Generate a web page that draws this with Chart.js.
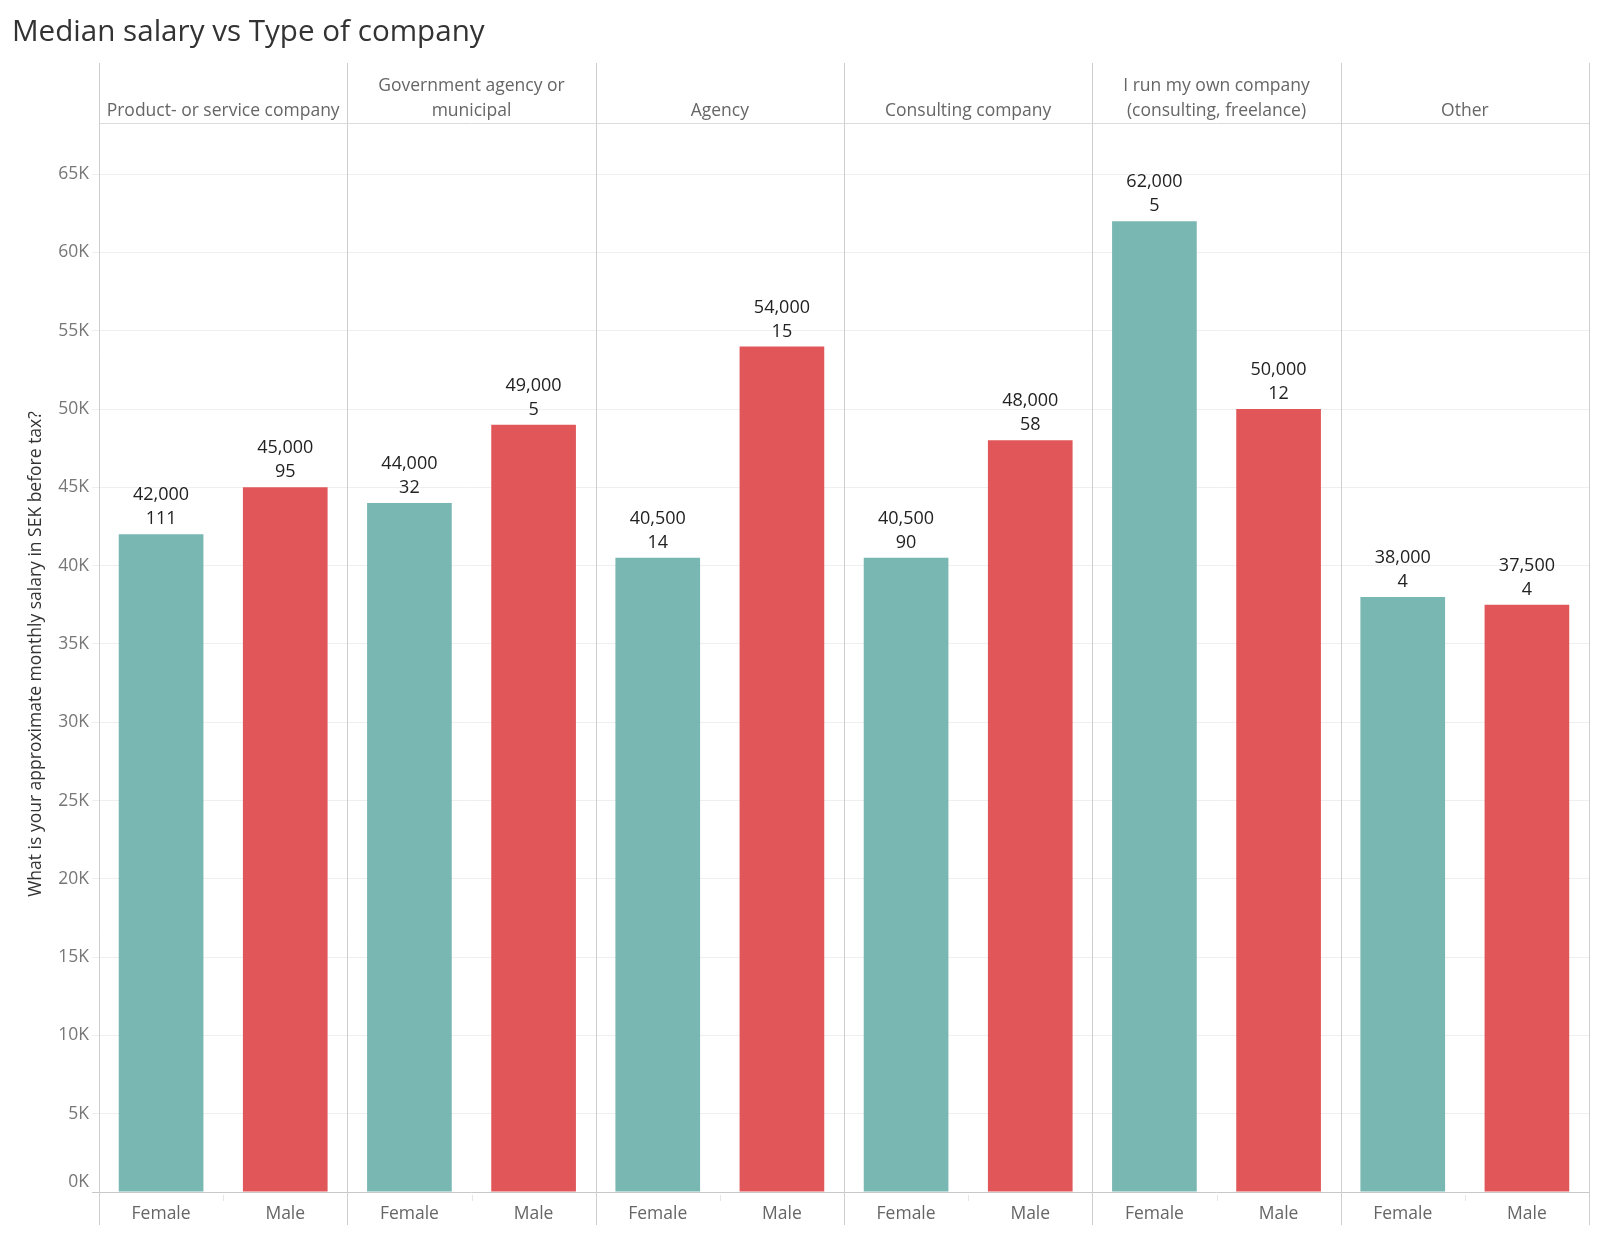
<!DOCTYPE html>
<html>
<head>
<meta charset="utf-8">
<script src="https://cdn.jsdelivr.net/npm/chart.js@4.4.1/dist/chart.umd.min.js"></script>
<style>
  html, body { margin: 0; padding: 0; background: #fff; overflow: hidden; }
  #wrap { width: 1600px; height: 1233px; }
</style>
</head>
<body>
<div id="wrap"><canvas id="c" width="1600" height="1233" style="width:1600px;height:1233px"></canvas></div>
<script>
// ---- data ----
const chartTitle = "Median salary vs Type of company";
const yAxisTitle = "What is your approximate monthly salary in SEK before tax?";
const categories = [
  ["Product- or service company"],
  ["Government agency or", "municipal"],
  ["Agency"],
  ["Consulting company"],
  ["I run my own company", "(consulting, freelance)"],
  ["Other"]
];
const genders = ["Female", "Male"];
const femaleSalary = [42000, 44000, 40500, 40500, 62000, 38000];
const maleSalary   = [45000, 49000, 54000, 48000, 50000, 37500];
const femaleCount  = [111, 32, 14, 90, 5, 4];
const maleCount    = [95, 5, 15, 58, 12, 4];
const yTickValues  = [0, 5000, 10000, 15000, 20000, 25000, 30000, 35000, 40000, 45000, 50000, 55000, 60000, 65000];
const yMin = 0, yMax = 68300;

// ---- build flat arrays ----
const FONT = "'Open Sans', 'Noto Sans', sans-serif";
const colors = { Female: "#79b7b2", Male: "#e15759" };
const labels = [], values = [], counts = [], bg = [];
categories.forEach((c, i) => {
  labels.push(genders[0]); values.push(femaleSalary[i]); counts.push(femaleCount[i]); bg.push(colors.Female);
  labels.push(genders[1]); values.push(maleSalary[i]);   counts.push(maleCount[i]);   bg.push(colors.Male);
});

const fmt = v => v.toLocaleString("en-US");
const kfmt = v => (v / 1000) + "K";

const decor = {
  id: "decor",
  afterDraw(chart) {
    const ctx = chart.ctx, a = chart.chartArea;
    ctx.save();
    // title
    ctx.fillStyle = "#333";
    ctx.font = "29.6px " + FONT;
    ctx.textAlign = "left"; ctx.textBaseline = "alphabetic";
    ctx.fillText(chartTitle, 12, 41);

    const n = categories.length;
    const pw = (a.right - a.left) / n;
    // header bottom line
    ctx.strokeStyle = "#dcdcdc"; ctx.lineWidth = 1;
    ctx.beginPath(); ctx.moveTo(a.left, Math.round(a.top) + 0.5); ctx.lineTo(a.right, Math.round(a.top) + 0.5); ctx.stroke();
    // vertical separators
    ctx.strokeStyle = "#cfcfcf";
    for (let i = 0; i <= n; i++) {
      const x = Math.round(a.left + i * pw) + 0.5;
      ctx.beginPath(); ctx.moveTo(x, 63); ctx.lineTo(x, 1225); ctx.stroke();
    }
    // small ticks between genders on x axis
    ctx.strokeStyle = "#e6e6e6";
    for (let i = 0; i < n; i++) {
      const x = Math.round(a.left + i * pw + pw / 2) + 0.5;
      ctx.beginPath(); ctx.moveTo(x, a.bottom + 3); ctx.lineTo(x, a.bottom + 9); ctx.stroke();
    }
    // headers
    ctx.fillStyle = "#666";
    ctx.font = "17.5px " + FONT;
    ctx.textAlign = "center"; ctx.textBaseline = "middle";
    categories.forEach((lines, i) => {
      const cx = a.left + i * pw + pw / 2;
      const lastY = 111;
      lines.forEach((t, j) => {
        ctx.fillText(t, cx, lastY - (lines.length - 1 - j) * 24.5);
      });
    });
    // bottom-most y tick label, lifted above the baseline
    const ys = chart.scales.y;
    ctx.fillStyle = "#777";
    ctx.textAlign = "right";
    ctx.fillText(kfmt(yTickValues[0]), ys.right - 10, ys.getPixelForValue(yTickValues[0]) - 10);
    // y axis title
    ctx.save();
    ctx.translate(36, 654);
    ctx.rotate(-Math.PI / 2);
    ctx.fillStyle = "#333";
    ctx.font = "17.5px " + FONT;
    ctx.textAlign = "center"; ctx.textBaseline = "middle";
    ctx.fillText(yAxisTitle, 0, 0);
    ctx.restore();
    // bar labels
    const meta = chart.getDatasetMeta(0);
    ctx.fillStyle = "#222";
    ctx.font = "18px " + FONT;
    ctx.textAlign = "center"; ctx.textBaseline = "middle";
    meta.data.forEach((bar, i) => {
      ctx.fillText(fmt(values[i]), bar.x, bar.y - 39);
      ctx.fillText(String(counts[i]), bar.x, bar.y - 15);
    });
    ctx.restore();
  }
};

new Chart(document.getElementById("c"), {
  type: "bar",
  data: {
    labels: labels,
    datasets: [{
      data: values,
      backgroundColor: bg,
      borderWidth: 0,
      categoryPercentage: 0.682,
      barPercentage: 1.0
    }]
  },
  options: {
    responsive: false,
    animation: false,
    devicePixelRatio: 1,
    layout: { padding: { top: 122.5, right: 11, left: 0, bottom: 0 } },
    plugins: { legend: { display: false }, tooltip: { enabled: false }, title: { display: false } },
    scales: {
      x: {
        grid: { display: false },
        border: { display: false },
        ticks: { color: "#666", font: { family: FONT, size: 17.5 }, padding: 4, maxRotation: 0, autoSkip: false },
        afterFit(s) { s.height = 41; }
      },
      y: {
        min: yMin, max: yMax,
        border: { display: false },
        grid: {
          color: ctx => ctx.tick && ctx.tick.value === 0 ? "#c8c8c8" : "#efefef",
          tickColor: ctx => ctx.tick && ctx.tick.value === 0 ? "#c8c8c8" : "#efefef",
          tickLength: 7,
          lineWidth: 1
        },
        ticks: {
          color: "#777",
          font: { family: FONT, size: 17.5 },
          padding: 3,
          callback: v => (v === yTickValues[0] ? "" : kfmt(v))
        },
        afterBuildTicks(s) { s.ticks = yTickValues.map(v => ({ value: v })); },
        afterFit(s) { s.width = 99; }
      }
    }
  },
  plugins: [decor]
});
</script>
</body>
</html>
